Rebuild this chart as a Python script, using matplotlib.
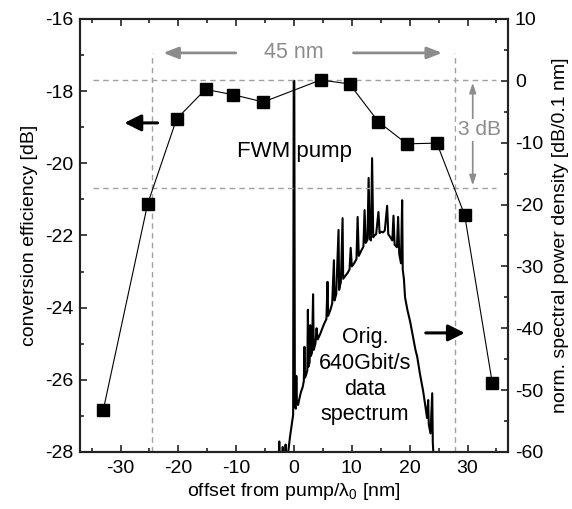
import matplotlib
matplotlib.use("Agg")
import matplotlib.pyplot as plt
from matplotlib.ticker import MultipleLocator

plt.rcParams['font.family'] = ['Liberation Sans', 'DejaVu Sans']
plt.rcParams['axes.unicode_minus'] = False

# conversion efficiency measurements (left axis)
offset_nm = [-33.0, -25.3, -20.3, -15.3, -10.5, -5.3, 4.6, 9.6, 14.6, 19.5, 24.7, 29.5, 34.3]
conv_eff_db = [-26.85, -21.12, -18.77, -17.95, -18.1, -18.3, -17.69, -17.8, -18.85, -19.46,
               -19.44, -21.43, -26.1]

spec_x = [-3.0, -2.6, -2.55, -2.5, -2.0, -1.95, -1.9, -1.5, -1.45, -1.4, -1.0, -0.7, -0.35,
          -0.15, -0.05, 0.05, 0.15, 0.3, 0.4, 0.5, 0.7, 0.9, 1.2, 1.5, 1.7, 1.8, 1.9, 2.1,
          2.3, 2.4, 2.5, 2.7, 2.8, 2.9, 3.1, 3.3, 3.4, 3.7, 3.9, 4.1, 4.5, 4.9, 5.2, 5.6,
          5.8, 5.9, 6.3, 6.6, 6.9, 7.0, 7.3, 7.7, 7.8, 8.1, 8.4, 8.5, 8.9, 9.3, 9.6, 9.8,
          10.0, 10.4, 10.8, 11.0, 11.2, 11.6, 12.0, 12.2, 12.4, 12.7, 12.9, 13.1, 13.3,
          13.5, 13.7, 13.9, 14.2, 14.6, 14.8, 15.1, 15.4, 15.7, 16.1, 16.3, 16.6, 17.0,
          17.2, 17.4, 17.8, 18.0, 18.2, 18.5, 18.7, 18.8, 19.0, 19.2, 19.6, 20.1, 20.6,
          21.0, 21.3, 21.8, 22.3, 22.7, 23.0, 23.2, 23.3, 23.6, 23.9, 24.0, 24.2]
spec_db = [-60, -60, -58.3, -60, -60, -59.2, -60, -60, -58.8, -60, -60, -57.6, -55.3,
           -54.0, 0.0, 0.0, -52.5, -53.0, -47.7, -52.0, -52.4, -51.5, -50.3, -49.5, -48.5,
           -43.0, -48.0, -47.5, -46.8, -37.0, -46.2, -45.5, -39.5, -44.5, -44.0, -34.5,
           -43.5, -42.5, -40.0, -41.8, -41.0, -40.0, -39.3, -38.5, -32.5, -38.0, -37.0,
           -36.0, -29.0, -35.5, -34.5, -24.1, -33.8, -32.5, -22.2, -32.0, -31.5, -31.0,
           -30.5, -27.0, -30.0, -29.5, -28.8, -22.0, -28.3, -27.5, -26.8, -20.9, -26.2,
           -25.7, -15.7, -25.5, -25.8, -12.5, -25.3, -25.0, -24.8, -21.2, -24.6, -24.4,
           -24.5, -24.2, -20.2, -24.8, -25.2, -25.8, -21.8, -26.5, -26.9, -22.0, -28.0,
           -29.5, -19.3, -30.5, -32.0, -35.0, -37.0, -39.0, -41.5, -43.5, -44.6, -47.5,
           -50.0, -52.5, -54.5, -51.6, -55.5, -57.0, -50.5, -58.5, -62.0]

peak_db = -17.69
band_edges = [-24.5, 27.8]

gray = '#8c8c8c'
dash_gray = '#a0a0a0'
spine_col = '#222222'

fig = plt.figure(figsize=(5.72, 5.09), dpi=100)
ax = fig.add_axes([0.1399, 0.112, 0.7482, 0.8507])
ax2 = ax.twinx()
ax.set_zorder(ax2.get_zorder() + 1)
ax.patch.set_visible(False)

# spectrum on right axis
ax2.plot(spec_x, spec_db, color='black', lw=1.5)
ax2.set_ylim(-60, 10)
ax2.yaxis.set_major_locator(MultipleLocator(10))
ax2.yaxis.set_minor_locator(MultipleLocator(5))
ax2.set_ylabel('norm. spectral power density [dB/0.1 nm]', fontsize=14, labelpad=6)

# conversion efficiency
ax.plot(offset_nm, conv_eff_db, color='black', lw=0.8, marker='s', ms=8.5,
        mfc='black', mec='black', zorder=5)
ax.set_xlim(-37, 37)
ax.set_ylim(-28, -16)
ax.xaxis.set_major_locator(MultipleLocator(10))
ax.xaxis.set_minor_locator(MultipleLocator(5))
ax.yaxis.set_major_locator(MultipleLocator(2))
ax.yaxis.set_minor_locator(MultipleLocator(1))
ax.set_xlabel(r'offset from pump/λ$_\mathregular{0}$ [nm]', fontsize=14, labelpad=3)
ax.set_ylabel('conversion efficiency [dB]', fontsize=14, labelpad=5)

# 3 dB bandwidth guides
ax.hlines([peak_db, peak_db - 3], -34.8, 35, colors=dash_gray, linestyles=(0, (4, 3)), lw=1)
ax.vlines(band_edges, -28, -16.94, colors=dash_gray, linestyles=(0, (4, 3)), lw=1)

ax.annotate('', xy=(-23.1, -16.94), xytext=(-9.6, -16.94),
            arrowprops=dict(arrowstyle='-|>,head_length=0.9,head_width=0.35', color=gray, lw=2))
ax.annotate('', xy=(26.1, -16.94), xytext=(9.8, -16.94),
            arrowprops=dict(arrowstyle='-|>,head_length=0.9,head_width=0.35', color=gray, lw=2))
ax.text(0, -16.94, '45 nm', color=gray, fontsize=15.5, ha='center', va='center')

ax.annotate('', xy=(30.9, peak_db), xytext=(30.9, peak_db - 3),
            arrowprops=dict(arrowstyle='<|-|>,head_length=0.6,head_width=0.2', color=gray, lw=1.2))
ax.text(32.0, -19.07, '3 dB', color=gray, fontsize=15, ha='center', va='center',
        bbox=dict(facecolor='white', edgecolor='none', pad=1))

# axis pointer arrows
ax.annotate('', xy=(-29.8, -18.88), xytext=(-23.1, -18.88),
            arrowprops=dict(arrowstyle='-|>,head_length=1.0,head_width=0.5', color='black', lw=2.2))
ax.annotate('', xy=(30.0, -24.7), xytext=(22.3, -24.7),
            arrowprops=dict(arrowstyle='-|>,head_length=1.0,head_width=0.5', color='black', lw=2.2))

ax.text(0, -19.68, 'FWM pump', fontsize=16, ha='center', va='center')
ax.text(12.3, -25.9, 'Orig.\n640Gbit/s\ndata\nspectrum', fontsize=15.5, ha='center',
        va='center', linespacing=1.3)

for a in (ax, ax2):
    for s in a.spines.values():
        s.set_color(spine_col)
        s.set_linewidth(1.5)
ax.tick_params(which='both', direction='in', top=True, right=False, labelsize=14,
               color=spine_col, width=1.2)
ax.tick_params(which='major', length=5)
ax.tick_params(which='minor', length=3)
ax.tick_params(axis='x', which='both', pad=6)
ax.tick_params(axis='y', which='both', pad=5)
ax2.tick_params(which='both', direction='in', labelsize=14, color=spine_col, width=1.2, pad=5)
ax2.tick_params(which='major', length=5)
ax2.tick_params(which='minor', length=3)

fig.savefig('out.png', dpi=100)
